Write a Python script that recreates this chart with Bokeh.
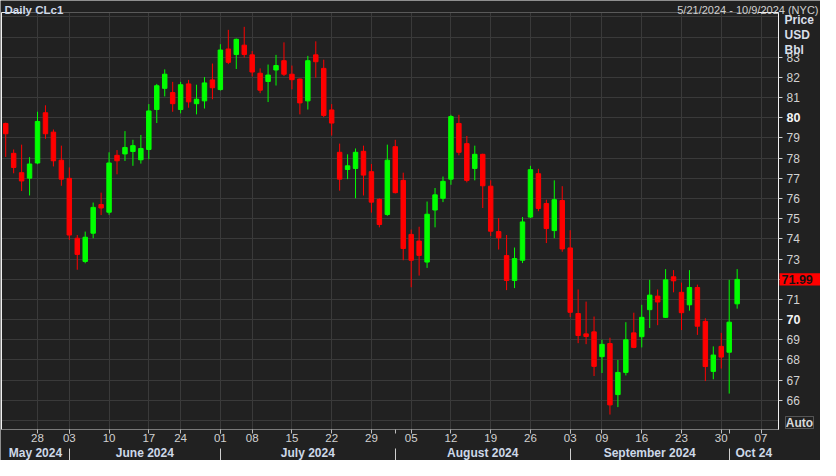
import pandas as pd
from bokeh.plotting import figure
from bokeh.models import (ColumnDataSource, LinearAxis, FixedTicker, Grid, Range1d, Label, BoxAnnotation)
from bokeh.embed import file_html
from bokeh.resources import INLINE

# ---------------- data ----------------
holidays = ["2024-05-27", "2024-06-19", "2024-07-04", "2024-09-02"]
calendar = [d.strftime("%Y-%m-%d") for d in pd.bdate_range("2024-05-21", "2024-10-09")
            if d.strftime("%Y-%m-%d") not in holidays]

opens = [79.72, 78.24, 77.28, 77.01, 77.76, 80.25, 79.29, 77.90, 77.00, 74.03,
         72.88, 74.28, 75.70, 75.32, 78.14, 78.21, 78.33, 77.92, 78.43, 80.41,
         81.46, 81.25, 80.41, 81.68, 80.70, 80.84, 81.88, 81.40, 83.41, 83.14,
         83.60, 83.12, 82.21, 81.80, 82.37, 82.83, 82.16, 81.92, 80.84, 83.12,
         82.45, 80.39, 78.29, 77.44, 77.49, 78.34, 77.33, 75.96, 75.21, 78.57,
         76.90, 74.22, 73.89, 72.85, 75.43, 76.01, 76.96, 79.72, 78.72, 77.49,
         78.19, 76.61, 74.36, 73.17, 71.94, 72.94, 75.08, 77.23, 75.75, 74.41,
         75.90, 73.55, 70.30, 69.29, 69.39, 68.16, 68.81, 66.28, 67.38, 69.34,
         69.15, 70.49, 71.16, 70.11, 72.12, 71.35, 70.73, 71.59, 69.91, 67.43,
         68.67, 68.38, 70.78]
highs = [79.76, 78.43, 78.67, 78.05, 80.30, 80.62, 79.42, 78.62, 77.54, 74.19,
         74.36, 75.80, 76.29, 78.29, 78.40, 79.34, 78.91, 79.15, 80.68, 81.68,
         82.40, 81.78, 81.78, 81.88, 81.64, 82.02, 82.69, 83.65, 84.36, 83.93,
         84.51, 83.31, 82.45, 82.64, 83.12, 83.74, 82.59, 81.95, 83.07, 83.79,
         82.88, 80.68, 78.72, 78.19, 78.48, 78.62, 77.71, 76.01, 78.67, 78.91,
         77.28, 74.46, 74.60, 75.85, 76.52, 77.09, 80.15, 80.15, 79.10, 78.62,
         78.22, 76.90, 75.03, 74.19, 73.57, 75.08, 77.62, 77.47, 75.94, 76.90,
         76.61, 74.43, 71.49, 70.89, 70.15, 69.00, 69.10, 68.00, 69.87, 70.34,
         70.73, 71.97, 71.49, 72.50, 72.45, 71.83, 72.45, 71.73, 70.06, 68.67,
         69.34, 71.97, 72.50]
lows = [78.06, 77.25, 76.37, 76.15, 77.70, 78.96, 77.59, 76.63, 73.95, 72.47,
        72.79, 74.03, 75.18, 75.19, 77.20, 77.86, 77.62, 77.73, 77.95, 79.74,
        81.06, 80.30, 80.22, 80.50, 80.17, 80.46, 80.92, 81.35, 82.66, 82.42,
        82.99, 82.05, 81.22, 80.78, 81.60, 82.07, 81.41, 80.17, 80.41, 81.99,
        80.03, 79.12, 76.39, 76.96, 76.01, 76.15, 75.30, 74.57, 75.14, 76.25,
        72.94, 71.60, 72.18, 72.56, 74.57, 75.82, 76.68, 78.14, 76.80, 76.90,
        75.53, 74.14, 73.47, 71.46, 71.56, 72.80, 75.03, 75.37, 73.79, 74.03,
        73.36, 70.12, 68.83, 68.78, 67.20, 67.35, 65.29, 65.66, 67.23, 68.58,
        68.62, 69.58, 69.72, 70.08, 71.35, 69.48, 70.44, 69.24, 66.95, 67.04,
        67.57, 66.33, 70.54]
closes = [79.21, 77.54, 76.87, 77.71, 79.82, 79.21, 77.87, 76.96, 74.19, 73.23,
          74.08, 75.56, 75.53, 77.76, 77.87, 78.53, 78.62, 78.48, 80.34, 81.59,
          82.16, 80.70, 81.64, 80.79, 80.92, 81.73, 81.49, 83.36, 82.75, 83.89,
          83.14, 82.27, 81.37, 82.12, 82.59, 82.16, 81.89, 80.74, 82.83, 82.78,
          80.12, 79.74, 76.96, 77.62, 78.29, 77.16, 75.82, 74.71, 77.90, 76.29,
          73.52, 72.94, 73.18, 75.22, 76.18, 76.85, 80.06, 78.29, 76.90, 78.19,
          76.63, 74.38, 74.05, 71.94, 73.02, 74.84, 77.43, 75.51, 74.51, 75.94,
          73.50, 70.36, 69.21, 69.16, 67.68, 68.77, 65.77, 67.38, 69.00, 68.62,
          70.11, 71.21, 70.87, 71.97, 71.92, 70.34, 71.59, 69.67, 67.67, 68.24,
          68.14, 69.87, 71.99]

tick_dates = ["2024-05-28", "2024-06-03", "2024-06-10", "2024-06-17", "2024-06-24",
              "2024-07-01", "2024-07-08", "2024-07-15", "2024-07-22", "2024-07-29",
              "2024-08-05", "2024-08-12", "2024-08-19", "2024-08-26", "2024-09-03",
              "2024-09-09", "2024-09-16", "2024-09-23", "2024-09-30", "2024-10-07"]
tick_labels = ["28", "03", "10", "17", "24", "01", "08", "15", "22", "29",
               "05", "12", "19", "26", "03", "09", "16", "23", "30", "07"]
month_starts = ["2024-06-03", "2024-07-01", "2024-08-01", "2024-09-03", "2024-10-01"]
month_names = ["May 2024", "June 2024", "July 2024", "August 2024", "September 2024", "Oct 24"]
price_ticks = list(range(66, 84))
grid_prices = list(range(65, 86))
bold_prices = [70, 80]
last_price = 71.99

title_text = "Daily CLc1"
range_text = "5/21/2024 - 10/9/2024 (NYC)"
unit_texts = ["Price", "USD", "Bbl"]

# ---------------- layout (canvas pixels) ----------------
W, H = 820, 460
PX_L, PX_R, PY_T, PY_B = 1, 778, 12, 429      # plot area inside the canvas
x0, x1 = -0.53, 97.2                            # visible trading-day span
y0, y1 = 64.55, 85.22                           # visible price span
ppx = (PX_R - PX_L) / (x1 - x0)
ppy = (PY_B - PY_T) / (y1 - y0)
x_lo, x_hi = x0 - PX_L / ppx, x1 + (W - PX_R) / ppx
y_lo, y_hi = y0 - (H - PY_B) / ppy, y1 + PY_T / ppy


def cx(px):
    return x_lo + px / ppx


def cy(py):
    return y_hi - py / ppy


FONT = "Liberation Sans"
BG = "#212121"
GRID = "#3a3a3a"
TXT = "#d2d2d2"
BLUE_TXT = "#cdd8e8"
WHITE = "#f0f0f0"
UP = "#00ff00"
DOWN = "#ff0000"

n = len(closes)
x = list(range(n))
colors = [UP if c >= o else DOWN for o, c in zip(opens, closes)]
src = ColumnDataSource(dict(
    x=x, high=highs, low=lows,
    top=[max(o, c) for o, c in zip(opens, closes)],
    bottom=[min(o, c) for o, c in zip(opens, closes)],
    color=colors))

p = figure(width=W, height=H, x_range=Range1d(x_lo, x_hi), y_range=Range1d(y_lo, y_hi),
           output_backend="svg", toolbar_location=None,
           x_axis_location=None, y_axis_location=None,
           background_fill_color=BG, border_fill_color=BG,
           min_border_left=0, min_border_right=0, min_border_top=0, min_border_bottom=0)
p.outline_line_color = None
p.center = []

# tickers
tick_pos = [calendar.index(d) for d in tick_dates]
month_pos = [calendar.index(d) for d in month_starts]
bounds = [x0] + month_pos + [x1]
month_centers = [(a + b) / 2 for a, b in zip(bounds[:-1], bounds[1:])]
day_ticker = FixedTicker(ticks=tick_pos, minor_ticks=month_pos)

has_cross = "cross_bounds" in Grid.properties()
gx = Grid(dimension=0, ticker=day_ticker, grid_line_color=GRID)
gy = Grid(dimension=1, ticker=FixedTicker(ticks=grid_prices), grid_line_color=GRID)
if has_cross:
    gx.cross_bounds = (y0, y1)
    gy.cross_bounds = (x0, x1)
p.add_layout(gx)
p.add_layout(gy)
if not has_cross:
    for (l, r, b, t) in [(x_lo, x_hi, y1, y_hi), (x_lo, x_hi, y_lo, y0),
                         (x1, x_hi, y_lo, y_hi), (x_lo, x0, y_lo, y_hi)]:
        p.add_layout(BoxAnnotation(left=l, right=r, bottom=b, top=t, fill_color=BG,
                                   fill_alpha=1, line_color=None, level="underlay"))

# frame edges: gray top, white left edge and white corner stubs
stub = 20.5 / ppx
p.segment(x0=[x0], y0=[y1], x1=[x1], y1=[y1], line_color="#5a5a5a", line_width=1)
p.segment(x0=[x0], y0=[y0], x1=[x0], y1=[y1], line_color=WHITE, line_width=1)
p.segment(x0=[x0, x0, x1 - stub, x1 - stub], y0=[y1, y0, y1, y0],
          x1=[x0 + stub, x0 + stub, x1, x1], y1=[y1, y0, y1, y0],
          line_color=WHITE, line_width=1)

# candles
p.segment(x0="x", y0="high", x1="x", y1="low", line_color="color", line_width=1, source=src)
p.vbar(x="x", width=0.56, top="top", bottom="bottom", fill_color="color",
       line_color="color", line_width=1, source=src)

# right price axis
yaxis = LinearAxis(ticker=FixedTicker(ticks=price_ticks), fixed_location=x1, bounds=(y0, y1))
yaxis.major_label_overrides = {v: "" for v in bold_prices + [72]}
yaxis.axis_line_color = WHITE
yaxis.major_tick_line_color = "#d0d0d0"
yaxis.major_tick_out = 4
yaxis.major_tick_in = 0
yaxis.minor_tick_line_color = None
yaxis.major_label_standoff = 4
yaxis.major_label_text_font = FONT
yaxis.major_label_text_font_size = "12px"
yaxis.major_label_text_color = TXT
p.add_layout(yaxis, "right")

# bottom day axis
xaxis = LinearAxis(ticker=day_ticker, fixed_location=y0, bounds=(x0, x1))
xaxis.major_label_overrides = {pos: lab for pos, lab in zip(tick_pos, tick_labels)}
xaxis.axis_line_color = "#7a7a7a"
xaxis.major_tick_line_color = "#bdbdbd"
xaxis.major_tick_out = 4
xaxis.major_tick_in = 0
xaxis.minor_tick_line_color = "#bdbdbd"
xaxis.minor_tick_out = 4
xaxis.minor_tick_in = 0
xaxis.major_label_standoff = 0
xaxis.major_label_text_font = FONT
xaxis.major_label_text_font_size = "11.5px"
xaxis.major_label_text_color = TXT
p.add_layout(xaxis, "below")

# month labels axis
maxis = LinearAxis(ticker=FixedTicker(ticks=month_centers), fixed_location=cy(PY_B + 16))
maxis.major_label_overrides = {c: m for c, m in zip(month_centers, month_names)}
maxis.axis_line_color = None
maxis.major_tick_line_color = None
maxis.minor_tick_line_color = None
maxis.major_tick_out = 0
maxis.major_tick_in = 0
maxis.major_label_standoff = 0
maxis.major_label_text_font = FONT
maxis.major_label_text_font_size = "12px"
maxis.major_label_text_font_style = "bold"
maxis.major_label_text_color = BLUE_TXT
p.add_layout(maxis, "below")

# month separators (ticks pointing up from the bottom edge)
saxis = LinearAxis(ticker=FixedTicker(ticks=[], minor_ticks=month_pos), fixed_location=y_lo)
saxis.axis_line_color = None
saxis.major_tick_line_color = None
saxis.major_label_text_font_size = "0px"
saxis.minor_tick_line_color = "#cfcfcf"
saxis.minor_tick_in = 12
saxis.minor_tick_out = 0
p.add_layout(saxis, "below")

# bold price labels
for v in bold_prices:
    p.add_layout(Label(x=cx(PX_R + 8), y=v, text=str(v), text_align="left", text_baseline="middle",
                       text_font=FONT, text_font_size="12.5px", text_font_style="bold",
                       text_color="#f4f4f4"))

# last price tag
tag_h = 6.2 / ppy
p.add_layout(BoxAnnotation(left=cx(PX_R + 1), right=x_hi, bottom=last_price - tag_h,
                           top=last_price + tag_h, fill_color="#ff0000", fill_alpha=1,
                           line_color=None))
p.add_layout(Label(x=cx(PX_R + 3), y=last_price, text=f"{last_price:.2f}", text_align="left",
                   text_baseline="middle", text_font=FONT, text_font_size="12.5px",
                   text_font_style="bold", text_color="#141414"))

# unit labels
for t, py in zip(unit_texts, [PY_T + 7, PY_T + 22, PY_T + 37]):
    p.add_layout(Label(x=cx(PX_R + 6), y=cy(py), text=t, text_align="left",
                       text_baseline="middle", text_font=FONT, text_font_size="12px",
                       text_font_style="bold", text_color="#d8dee8"))

# Auto button
p.add_layout(BoxAnnotation(left=cx(PX_R + 7), right=cx(PX_R + 35), bottom=cy(PY_B - 1),
                           top=cy(PY_B - 13), fill_color=BG, fill_alpha=1,
                           line_color="#cfcfcf", line_width=1))
p.add_layout(Label(x=cx(PX_R + 21), y=cy(PY_B - 7), text="Auto", text_align="center",
                   text_baseline="middle", text_font=FONT, text_font_size="12px",
                   text_font_style="bold", text_color="#d8d8d8"))

# title texts
p.add_layout(Label(x=cx(4), y=cy(PY_T - 2.5), text=title_text, text_align="left",
                   text_baseline="alphabetic", text_font=FONT, text_font_size="11.5px",
                   text_font_style="bold", text_color=BLUE_TXT))
p.add_layout(Label(x=cx(W - 2), y=cy(PY_T - 2.5), text=range_text, text_align="right",
                   text_baseline="alphabetic", text_font=FONT, text_font_size="11px",
                   text_color="#cfcfcf"))

open("out.html", "w").write(file_html(p, INLINE))
